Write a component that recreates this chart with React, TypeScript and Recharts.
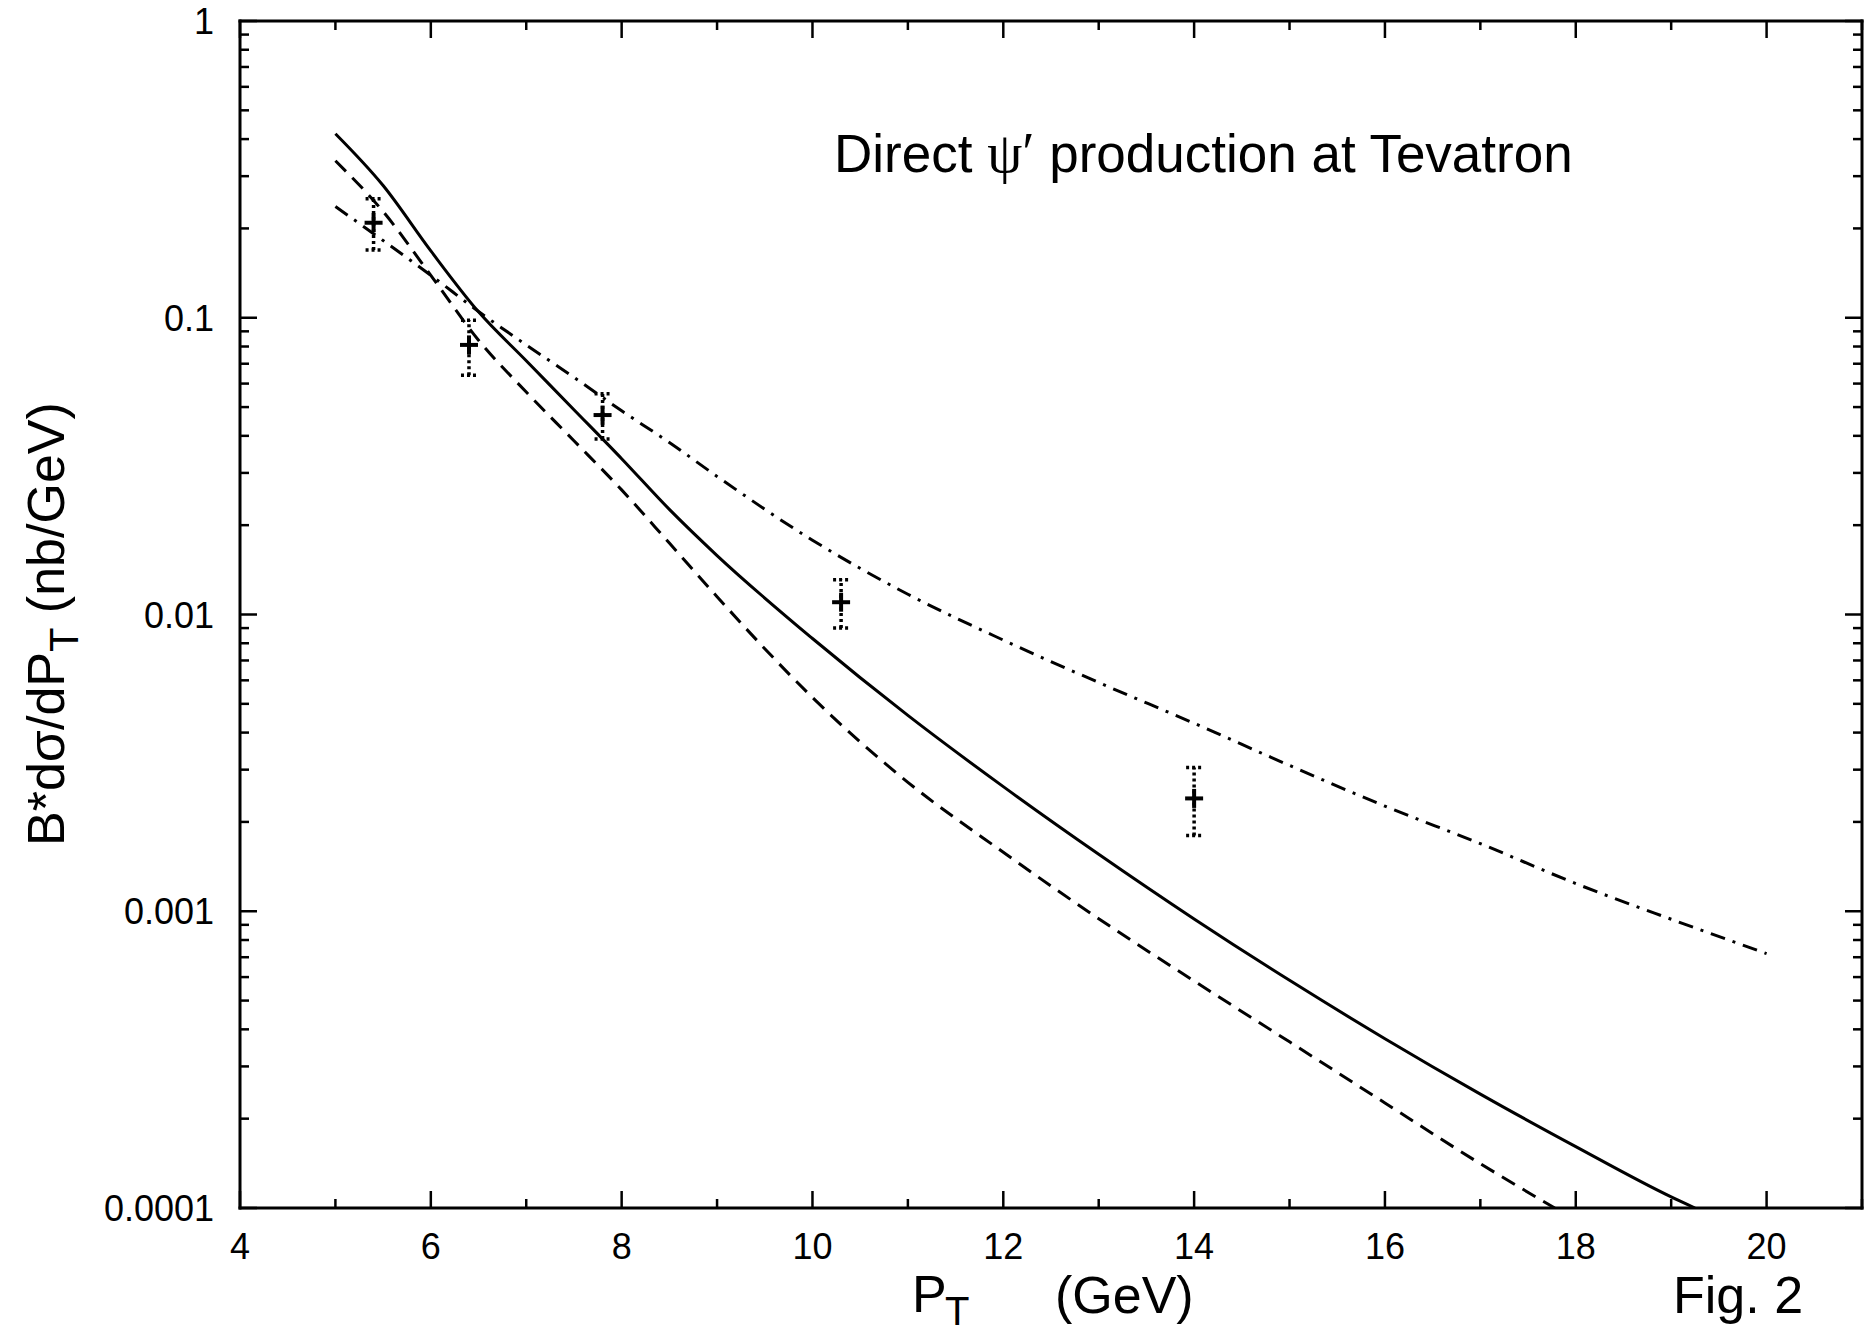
import React from 'react';
import { ComposedChart, Line, Scatter, ErrorBar, XAxis, YAxis } from 'recharts';

// PT in GeV, B*dsigma/dPT in nb/GeV
const solidPt = [5, 5.5, 6, 6.5, 7, 7.5, 8, 8.5, 9, 10, 11, 12, 13, 14, 15, 16, 17, 18, 19, 19.25];
const solidVal = [0.417, 0.279, 0.168, 0.1047, 0.0716, 0.049, 0.0335, 0.0226, 0.0158, 0.0083, 0.00457, 0.00263, 0.001556, 0.000942, 0.000585, 0.000372, 0.000242, 0.000161, 0.000109, 0.0001];

const dashedPt = [5, 5.5, 6, 6.5, 7, 7.5, 8, 8.5, 9, 9.5, 10, 10.5, 11, 12, 13, 14, 15, 16, 17, 17.78];
const dashedVal = [0.338, 0.228, 0.139, 0.084, 0.0562, 0.0385, 0.0263, 0.0174, 0.01148, 0.00767, 0.00525, 0.00372, 0.00272, 0.00158, 0.000944, 0.000582, 0.000363, 0.000226, 0.000141, 0.0001];

const dashDotPt = [5, 5.5, 6, 6.5, 7, 7.5, 8, 8.5, 9, 10, 11, 12, 13, 14, 15, 16, 17, 18, 19, 20];
const dashDotVal = [0.237, 0.182, 0.139, 0.105, 0.081, 0.063, 0.0486, 0.038, 0.0292, 0.0178, 0.0117, 0.0082, 0.0059, 0.0043, 0.0031, 0.00226, 0.00169, 0.00124, 0.00094, 0.00072];

// CDF data points with error bars
const dataPt = [5.4, 6.4, 7.8, 10.3, 14];
const dataVal = [0.209, 0.081, 0.047, 0.011, 0.0024];
const dataLow = [0.169, 0.064, 0.039, 0.009, 0.0018];
const dataHigh = [0.252, 0.098, 0.0555, 0.0131, 0.00305];

const xTicks = [4, 5, 6, 7, 8, 9, 10, 11, 12, 13, 14, 15, 16, 17, 18, 19, 20, 21];
const xLabels = [4, 6, 8, 10, 12, 14, 16, 18, 20];
const yDecades = [0.0001, 0.001, 0.01, 0.1];
const yMantissa = [1, 2, 3, 4, 5, 6, 7, 8, 9];
const yLabels = ['0.0001', '0.001', '0.01', '0.1', '1'];

const yTicks = [...yDecades.flatMap((d) => yMantissa.map((m) => m * d)), 1];

const toPoints = (xs: number[], ys: number[]) => xs.map((x, i) => ({ x, y: ys[i] }));

const solidData = toPoints(solidPt, solidVal);
const dashedData = toPoints(dashedPt, dashedVal);
const dashDotData = toPoints(dashDotPt, dashDotVal);
const pointData = dataPt.map((x, i) => ({
  x,
  y: dataVal[i],
  err: [dataVal[i] - dataLow[i], dataHigh[i] - dataVal[i]],
}));

const FONT = '"Liberation Sans", Arial, Helvetica, sans-serif';
const TICK_W = 2.5;
const TICK_FONT = 36;

const isDecade = (v: number) => Math.abs(Math.log10(v) - Math.round(Math.log10(v))) < 1e-6;

const BottomTick = (props: any) => {
  const { x, y, payload } = props;
  const major = xLabels.includes(payload.value);
  return (
    <g>
      <line x1={x} y1={y} x2={x} y2={y - (major ? 17 : 9)} stroke="#000" strokeWidth={TICK_W} />
      {major && (
        <text x={x} y={y + 51} textAnchor="middle" fontSize={TICK_FONT} fontFamily={FONT} fill="#000">
          {payload.value}
        </text>
      )}
    </g>
  );
};

const TopTick = (props: any) => {
  const { x, y, payload } = props;
  const major = xLabels.includes(payload.value);
  return <line x1={x} y1={y} x2={x} y2={y + (major ? 17 : 9)} stroke="#000" strokeWidth={TICK_W} />;
};

const LeftTick = (props: any) => {
  const { x, y, payload } = props;
  const major = isDecade(payload.value);
  const idx = Math.round(Math.log10(payload.value)) + 4;
  return (
    <g>
      <line x1={x} y1={y} x2={x + (major ? 17 : 9)} y2={y} stroke="#000" strokeWidth={TICK_W} />
      {major && (
        <text x={x - 26} y={y + 13} textAnchor="end" fontSize={TICK_FONT} fontFamily={FONT} fill="#000">
          {yLabels[idx]}
        </text>
      )}
    </g>
  );
};

const RightTick = (props: any) => {
  const { x, y, payload } = props;
  const major = isDecade(payload.value);
  return <line x1={x} y1={y} x2={x - (major ? 17 : 9)} y2={y} stroke="#000" strokeWidth={TICK_W} />;
};

const PlusShape = (props: any) => {
  const { cx, cy } = props;
  return (
    <g>
      <line x1={cx - 9} y1={cy} x2={cx + 9} y2={cy} stroke="#000" strokeWidth={4} />
      <line x1={cx} y1={cy - 9.5} x2={cx} y2={cy + 9.5} stroke="#000" strokeWidth={4} />
    </g>
  );
};

const axisLine = { stroke: '#000', strokeWidth: 3, strokeLinecap: 'square' as const };

export default function App() {
  return (
    <div style={{ position: 'absolute', left: 0, top: 0, width: 1876, height: 1333, background: '#fff' }}>
      <ComposedChart width={1876} height={1333} margin={{ top: 11, right: 4, bottom: 95, left: 180 }}>
        <XAxis
          xAxisId="b"
          type="number"
          dataKey="x"
          domain={[4, 21]}
          allowDataOverflow
          ticks={xTicks}
          interval={0}
          height={30}
          tickSize={0}
          tickMargin={0}
          tickLine={false}
          axisLine={axisLine}
          tick={(p: any) => <BottomTick {...p} />}
        />
        <XAxis
          xAxisId="t"
          orientation="top"
          type="number"
          dataKey="x"
          domain={[4, 21]}
          allowDataOverflow
          ticks={xTicks}
          interval={0}
          height={10}
          tickSize={0}
          tickMargin={0}
          tickLine={false}
          axisLine={axisLine}
          tick={(p: any) => <TopTick {...p} />}
        />
        <YAxis
          yAxisId="l"
          type="number"
          dataKey="y"
          scale="log"
          domain={[0.0001, 1]}
          allowDataOverflow
          ticks={yTicks}
          interval={0}
          width={60}
          tickSize={0}
          tickMargin={0}
          tickLine={false}
          axisLine={axisLine}
          tick={(p: any) => <LeftTick {...p} />}
        />
        <YAxis
          yAxisId="r"
          orientation="right"
          type="number"
          dataKey="y"
          scale="log"
          domain={[0.0001, 1]}
          allowDataOverflow
          ticks={yTicks}
          interval={0}
          width={10}
          tickSize={0}
          tickMargin={0}
          tickLine={false}
          axisLine={axisLine}
          tick={(p: any) => <RightTick {...p} />}
        />
        <Line
          xAxisId="b"
          yAxisId="l"
          data={solidData}
          dataKey="y"
          type="monotone"
          stroke="#000"
          strokeWidth={3}
          dot={false}
          activeDot={false}
          isAnimationActive={false}
        />
        <Line
          xAxisId="b"
          yAxisId="l"
          data={dashedData}
          dataKey="y"
          type="monotone"
          stroke="#000"
          strokeWidth={3}
          strokeDasharray="15 9"
          dot={false}
          activeDot={false}
          isAnimationActive={false}
        />
        <Line
          xAxisId="b"
          yAxisId="l"
          data={dashDotData}
          dataKey="y"
          type="monotone"
          stroke="#000"
          strokeWidth={3}
          strokeDasharray="15 8 3 8"
          dot={false}
          activeDot={false}
          isAnimationActive={false}
        />
        <Scatter
          xAxisId="b"
          yAxisId="l"
          data={pointData}
          dataKey="y"
          shape={(p: any) => <PlusShape {...p} />}
          isAnimationActive={false}
        >
          <ErrorBar
            dataKey="err"
            direction="y"
            width={8}
            stroke="#000"
            strokeWidth={3.5}
            strokeDasharray="3 3"
            isAnimationActive={false}
          />
        </Scatter>
      </ComposedChart>
      <svg
        width={1876}
        height={1333}
        style={{ position: 'absolute', left: 0, top: 0, pointerEvents: 'none' }}
        fontFamily={FONT}
        fill="#000"
      >
        <text x={834} y={172} fontSize={53}>
          Direct{' '}
          <tspan fontFamily='"Liberation Serif", "Times New Roman", serif' fontSize={56}>ψ′</tspan> production at Tevatron
        </text>
        <text x={1673} y={1313} fontSize={52}>
          Fig. 2
        </text>
        <text x={912} y={1312} fontSize={52}>
          P
          <tspan x={945} dy={13} fontSize={40}>
            T
          </tspan>
        </text>
        <text x={1055} y={1313} fontSize={52}>
          (GeV)
        </text>
        <text x={64} y={846} fontSize={52} transform="rotate(-90 64 846)">
          B*dσ/dP
          <tspan dy={14} fontSize={40}>
            T
          </tspan>
          <tspan dy={-14}> (nb/GeV)</tspan>
        </text>
      </svg>
    </div>
  );
}
